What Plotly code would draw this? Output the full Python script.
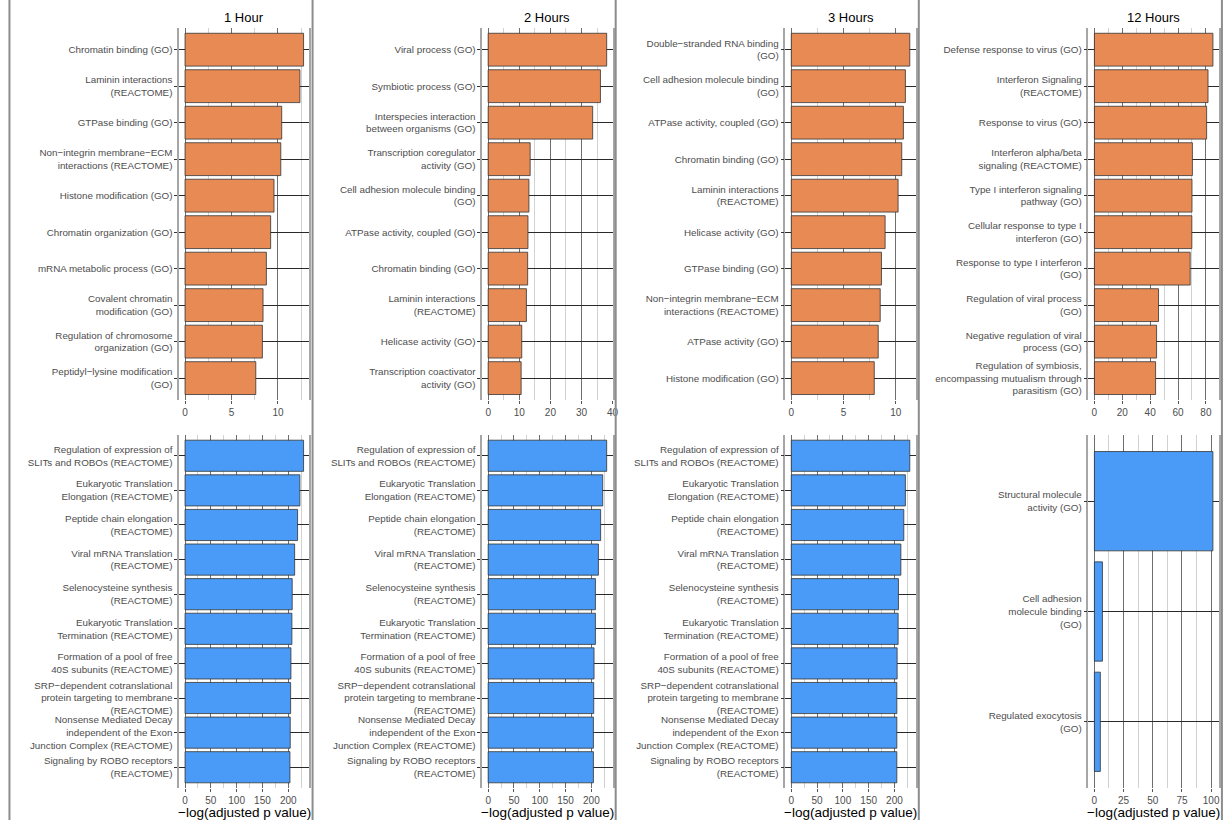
import plotly.graph_objects as go

# ---------------- data ----------------
h1_top_labels = [
    "Chromatin binding (GO)",
    "Laminin interactions<br>(REACTOME)",
    "GTPase binding (GO)",
    "Non−integrin membrane−ECM<br>interactions (REACTOME)",
    "Histone modification (GO)",
    "Chromatin organization (GO)",
    "mRNA metabolic process (GO)",
    "Covalent chromatin<br>modification (GO)",
    "Regulation of chromosome<br>organization (GO)",
    "Peptidyl−lysine modification<br>(GO)",
]
h1_top_vals = [12.75, 12.36, 10.4, 10.3, 9.57, 9.21, 8.75, 8.39, 8.32, 7.61]

h2_top_labels = [
    "Viral process (GO)",
    "Symbiotic process (GO)",
    "Interspecies interaction<br>between organisms (GO)",
    "Transcription coregulator<br>activity (GO)",
    "Cell adhesion molecule binding<br>(GO)",
    "ATPase activity, coupled (GO)",
    "Chromatin binding (GO)",
    "Laminin interactions<br>(REACTOME)",
    "Helicase activity (GO)",
    "Transcription coactivator<br>activity (GO)",
]
h2_top_vals = [38.1, 36.1, 33.6, 13.5, 13.1, 12.8, 12.7, 12.3, 10.8, 10.6]

h3_top_labels = [
    "Double−stranded RNA binding<br>(GO)",
    "Cell adhesion molecule binding<br>(GO)",
    "ATPase activity, coupled (GO)",
    "Chromatin binding (GO)",
    "Laminin interactions<br>(REACTOME)",
    "Helicase activity (GO)",
    "GTPase binding (GO)",
    "Non−integrin membrane−ECM<br>interactions (REACTOME)",
    "ATPase activity (GO)",
    "Histone modification (GO)",
]
h3_top_vals = [11.34, 10.92, 10.73, 10.57, 10.22, 8.98, 8.63, 8.51, 8.32, 7.94]

h12_top_labels = [
    "Defense response to virus (GO)",
    "Interferon Signaling<br>(REACTOME)",
    "Response to virus (GO)",
    "Interferon alpha/beta<br>signaling (REACTOME)",
    "Type I interferon signaling<br>pathway (GO)",
    "Cellular response to type I<br>interferon (GO)",
    "Response to type I interferon<br>(GO)",
    "Regulation of viral process<br>(GO)",
    "Negative regulation of viral<br>process (GO)",
    "Regulation of symbiosis,<br>encompassing mutualism through<br>parasitism (GO)",
]
h12_top_vals = [85.0, 81.5, 80.5, 70.3, 70.0, 69.9, 68.7, 46.0, 44.6, 43.9]

ribo_labels = [
    "Regulation of expression of<br>SLITs and ROBOs (REACTOME)",
    "Eukaryotic Translation<br>Elongation (REACTOME)",
    "Peptide chain elongation<br>(REACTOME)",
    "Viral mRNA Translation<br>(REACTOME)",
    "Selenocysteine synthesis<br>(REACTOME)",
    "Eukaryotic Translation<br>Termination (REACTOME)",
    "Formation of a pool of free<br>40S subunits (REACTOME)",
    "SRP−dependent cotranslational<br>protein targeting to membrane<br>(REACTOME)",
    "Nonsense Mediated Decay<br>independent of the Exon<br>Junction Complex (REACTOME)",
    "Signaling by ROBO receptors<br>(REACTOME)",
]
h1_bot_vals = [229.7, 222.6, 218.1, 212.4, 207.7, 207.1, 205.2, 204.6, 203.9, 203.3]
h2_bot_vals = [229.7, 222.0, 218.0, 213.7, 207.9, 207.9, 205.2, 204.6, 204.0, 204.0]
h3_bot_vals = [229.7, 221.2, 218.1, 212.4, 207.7, 207.1, 205.2, 204.6, 204.6, 204.6]

h12_bot_labels = [
    "Structural molecule<br>activity (GO)",
    "Cell adhesion<br>molecule binding<br>(GO)",
    "Regulated exocytosis<br>(GO)",
]
h12_bot_vals = [101.5, 6.9, 5.1]

titles = ["1 Hour", "2 Hours", "3 Hours", "12 Hours"]
x_title = "−log(adjusted p value)"

# -------------- styling ---------------
W, H = 1231, 820
ORANGE = "#E88A54"
BLUE = "#4A9BF7"
FONT = "Liberation Sans, Arial, sans-serif"
PANEL_W = 131
COL_STEP = 304.6
TOP_Y = (27.8, 400.0)     # px from top
BOT_Y = (435.0, 788.0)

panels = [
    # col, row, labels, values, color, dtick, minor
    (0, 0, h1_top_labels, h1_top_vals, ORANGE, 5, 2.5),
    (1, 0, h2_top_labels, h2_top_vals, ORANGE, 10, 5),
    (2, 0, h3_top_labels, h3_top_vals, ORANGE, 5, 2.5),
    (3, 0, h12_top_labels, h12_top_vals, ORANGE, 20, 10),
    (0, 1, ribo_labels, h1_bot_vals, BLUE, 50, 25),
    (1, 1, ribo_labels, h2_bot_vals, BLUE, 50, 25),
    (2, 1, ribo_labels, h3_bot_vals, BLUE, 50, 25),
    (3, 1, h12_bot_labels, h12_bot_vals, BLUE, 25, 12.5),
]

fig = go.Figure()
layout = {}
for i, (col, row, labels, vals, color, dtick, minor) in enumerate(panels):
    n = i + 1
    xname = "x" if n == 1 else f"x{n}"
    yname = "y" if n == 1 else f"y{n}"
    xkey = "xaxis" if n == 1 else f"xaxis{n}"
    ykey = "yaxis" if n == 1 else f"yaxis{n}"
    fig.add_trace(go.Bar(
        x=vals, y=labels, orientation="h", xaxis=xname, yaxis=yname,
        width=0.9, marker=dict(color=color, line=dict(color="#333333", width=0.8)),
        showlegend=False, hoverinfo="x+y",
    ))
    left = 180 + COL_STEP * col
    ypx = TOP_Y if row == 0 else BOT_Y
    vmax = max(vals)
    layout[xkey] = dict(
        domain=[left / W, (left + PANEL_W) / W], anchor=yname,
        range=[-0.05 * vmax, 1.05 * vmax], tick0=0, dtick=dtick,
        showgrid=True, gridcolor="#6E6E6E", gridwidth=1,
        minor=dict(dtick=minor, tick0=0, showgrid=True, gridcolor="#D2D2D2", gridwidth=1),
        zeroline=False, showline=False,
        ticks="outside", ticklen=3, tickcolor="#555555",
        tickfont=dict(family=FONT, size=10, color="#4D4D4D"),
        fixedrange=True,
    )
    layout[ykey] = dict(
        domain=[1 - ypx[1] / H, 1 - ypx[0] / H], anchor=xname,
        type="category", categoryorder="array", categoryarray=labels,
        range=[len(labels) - 1 + 0.6, -0.6],
        showgrid=True, gridcolor="#2A2A2A", gridwidth=1,
        zeroline=False, showline=True, mirror=True, linecolor="#A6A6A6", linewidth=1.5,
        ticks="outside", ticklen=3, tickcolor="#333333",
        tickfont=dict(family=FONT, size=9.8, color="#4D4D4D"),
        automargin=False, fixedrange=True,
    )

annotations = []
shapes = []
for c in range(4):
    left = 180 + COL_STEP * c
    cx = (left + PANEL_W / 2) / W
    annotations.append(dict(
        text=titles[c], x=cx, y=1 - 17 / H, xref="paper", yref="paper",
        xanchor="center", yanchor="middle", showarrow=False,
        font=dict(family=FONT, size=13, color="#000000"),
    ))
    annotations.append(dict(
        text=x_title, x=cx, y=1 - 812 / H, xref="paper", yref="paper",
        xanchor="center", yanchor="middle", showarrow=False,
        font=dict(family=FONT, size=13.5, color="#000000"),
    ))
for c in range(5):
    sx = (9.5 + COL_STEP * c) / W
    shapes.append(dict(type="line", xref="paper", yref="paper", x0=sx, x1=sx, y0=0, y1=1,
                       line=dict(color="#8C8C8C", width=2)))

fig.update_layout(
    width=W, height=H,
    margin=dict(l=0, r=0, t=0, b=0),
    paper_bgcolor="white", plot_bgcolor="white",
    bargap=0.1, showlegend=False,
    annotations=annotations, shapes=shapes,
    font=dict(family=FONT),
    **layout,
)

fig.write_html("out.html")
